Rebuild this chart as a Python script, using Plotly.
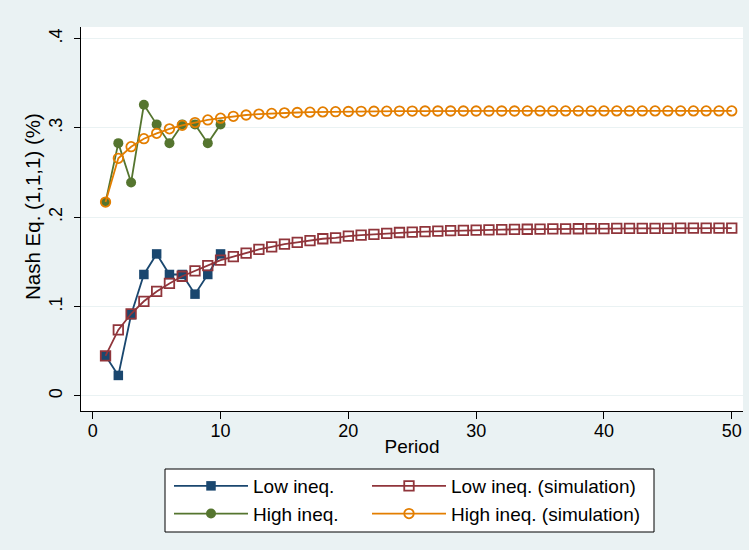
import plotly.graph_objects as go

# ---- data ----
period_obs = [1, 2, 3, 4, 5, 6, 7, 8, 9, 10]
low_obs = [0.045, 0.023, 0.091, 0.136, 0.159, 0.136, 0.136, 0.114, 0.136, 0.159]
high_obs = [0.217, 0.283, 0.239, 0.326, 0.304, 0.283, 0.304, 0.304, 0.283, 0.304]

period_sim = list(range(1, 51))
low_sim = [0.045, 0.074, 0.092, 0.106, 0.117, 0.126, 0.134, 0.140, 0.146, 0.152,
           0.156, 0.160, 0.164, 0.167, 0.170, 0.172, 0.174, 0.176, 0.177, 0.179,
           0.180, 0.181, 0.182, 0.183, 0.1835, 0.184, 0.1845, 0.185, 0.1853, 0.1856,
           0.1859, 0.1862, 0.1864, 0.1866, 0.1868, 0.187, 0.1871, 0.1872, 0.1873, 0.1874,
           0.1875, 0.1876, 0.1876, 0.1877, 0.1877, 0.1878, 0.1878, 0.1878, 0.1879, 0.1879]
high_sim = [0.217, 0.266, 0.279, 0.288, 0.294, 0.299, 0.303, 0.306, 0.309, 0.311,
            0.313, 0.3145, 0.3155, 0.3163, 0.3169, 0.3173, 0.3177, 0.318, 0.3182, 0.3184,
            0.3186, 0.3187, 0.3188, 0.3189, 0.3189, 0.319, 0.319, 0.319, 0.319, 0.319,
            0.319, 0.319, 0.319, 0.3191, 0.3191, 0.3191, 0.3191, 0.3191, 0.3191, 0.3191,
            0.3191, 0.3191, 0.3191, 0.3191, 0.3191, 0.3191, 0.3191, 0.3191, 0.3191, 0.3191]

y_ticks = [0, 0.1, 0.2, 0.3, 0.4]
y_ticktext = ["0", ".1", ".2", ".3", ".4"]
x_ticks = [0, 10, 20, 30, 40, 50]

NAVY = "#1a476f"
MAROON = "#90353b"
GREEN = "#55752f"
ORANGE = "#e37e00"
BG = "#eaf2f3"
FONT = "Liberation Sans, Arial, sans-serif"

fig = go.Figure()
fig.add_trace(go.Scatter(x=period_obs, y=low_obs, name="Low ineq.", mode="lines+markers",
                         line=dict(color=NAVY, width=1.8),
                         marker=dict(symbol="square", size=9.5, color=NAVY),
                         legend="legend"))
fig.add_trace(go.Scatter(x=period_sim, y=low_sim, name="Low ineq. (simulation)", mode="lines+markers",
                         line=dict(color=MAROON, width=1.8),
                         marker=dict(symbol="square-open", size=9.5, color=MAROON, line=dict(width=1.8)),
                         legend="legend2"))
fig.add_trace(go.Scatter(x=period_obs, y=high_obs, name="High ineq.", mode="lines+markers",
                         line=dict(color=GREEN, width=1.8),
                         marker=dict(symbol="circle", size=10, color=GREEN),
                         legend="legend"))
fig.add_trace(go.Scatter(x=period_sim, y=high_sim, name="High ineq. (simulation)", mode="lines+markers",
                         line=dict(color=ORANGE, width=1.8),
                         marker=dict(symbol="circle-open", size=9.5, color=ORANGE, line=dict(width=1.8)),
                         legend="legend2"))

leg_common = dict(orientation="v", xanchor="left", yanchor="top", bgcolor="rgba(0,0,0,0)",
                  borderwidth=0, font=dict(family=FONT, size=19, color="black"),
                  itemwidth=74, tracegroupgap=0)

fig.update_layout(
    width=749, height=550,
    margin=dict(l=81, r=6, t=27, b=139),
    paper_bgcolor=BG, plot_bgcolor="white",
    font=dict(family=FONT, size=18, color="black"),
    legend=dict(x=(169 - 81) / 662, y=(411 - 467) / 384, **leg_common),
    legend2=dict(x=(367 - 81) / 662, y=(411 - 467) / 384, **leg_common),
    xaxis=dict(range=[-0.92, 50.88], tickvals=x_ticks, ticks="outside", ticklen=7,
               tickcolor="black", showline=True, linecolor="black", linewidth=1,
               showgrid=False, zeroline=False, tickfont=dict(size=18),
               ticklabelstandoff=-4,
               title=dict(text="Period", font=dict(size=19), standoff=0)),
    yaxis=dict(range=[-0.0168, 0.413], tickvals=y_ticks, ticktext=y_ticktext,
               ticks="outside", ticklen=6, tickcolor="black", tickangle=-90,
               showline=True, linecolor="black", linewidth=1,
               showgrid=True, gridcolor=BG, gridwidth=1, zeroline=False,
               tickfont=dict(size=18), ticklabelstandoff=5),
    annotations=[dict(text="Nash Eq. (1,1,1) (%)", xref="paper", yref="paper",
                      x=(32 - 81) / 662, y=(411 - 207) / 384, xanchor="center", yanchor="middle",
                      textangle=-90, showarrow=False, font=dict(family=FONT, size=20.5, color="black"))],
    shapes=[dict(type="rect", xref="paper", yref="paper",
                 x0=(165 - 81) / 662, x1=(654 - 81) / 662,
                 y0=(411 - 532) / 384, y1=(411 - 469) / 384,
                 line=dict(color="black", width=1), fillcolor="white", layer="below")],
)

fig.write_html("out.html")
